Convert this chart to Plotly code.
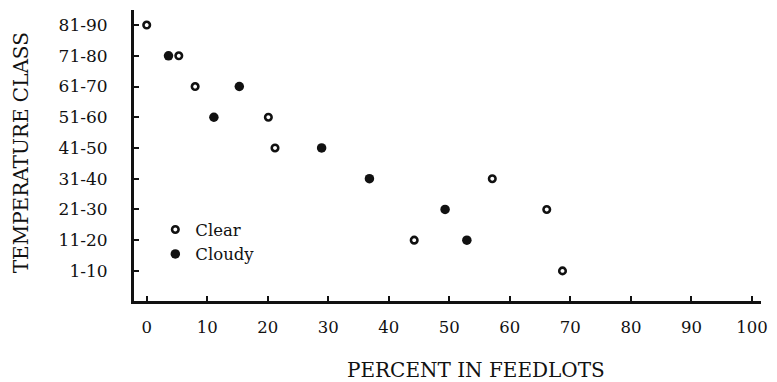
import plotly.graph_objects as go

# Temperature classes, bottom to top
temp_classes = ["1-10", "11-20", "21-30", "31-40", "41-50",
                "51-60", "61-70", "71-80", "81-90"]

# Percent of animals in feedlots, clear days
clear_class = ["81-90", "71-80", "61-70", "51-60", "41-50",
               "31-40", "21-30", "11-20", "1-10"]
clear_pct = [0, 5.3, 8.0, 20.1, 21.2, 57.1, 66.1, 44.2, 68.7]

# Percent of animals in feedlots, cloudy days
cloudy_class = ["71-80", "61-70", "51-60", "41-50", "31-40", "21-30", "11-20"]
cloudy_pct = [3.6, 15.3, 11.1, 28.9, 36.8, 49.3, 52.9]

x_ticks = [0, 10, 20, 30, 40, 50, 60, 70, 80, 90, 100]

FONT = "DejaVu Serif"
INK = "#111111"

fig = go.Figure()
fig.add_trace(go.Scatter(
    x=clear_pct, y=clear_class, mode="markers", name="Clear",
    marker=dict(symbol="circle-open", size=6.5, color=INK,
                line=dict(width=2.6, color=INK)),
))
fig.add_trace(go.Scatter(
    x=cloudy_pct, y=cloudy_class, mode="markers", name="Cloudy",
    marker=dict(symbol="circle", size=9.5, color=INK),
))

fig.update_layout(
    width=777, height=382,
    margin=dict(l=134, r=9, t=10, b=81),
    paper_bgcolor="white", plot_bgcolor="white",
    font=dict(family=FONT, color=INK),
    legend=dict(
        x=0.034, y=0.305, xanchor="left", yanchor="top",
        bgcolor="rgba(0,0,0,0)", borderwidth=0,
        font=dict(family=FONT, size=16.5, color=INK),
        tracegroupgap=0,
    ),
    annotations=[
        dict(text="PERCENT IN FEEDLOTS", xref="paper", yref="paper",
             x=(480 - 134) / (768 - 134), y=-(370 - 301) / (301 - 10),
             xanchor="center", yanchor="middle", showarrow=False,
             font=dict(family=FONT, size=20, color=INK)),
        dict(text="TEMPERATURE CLASS", xref="paper", yref="paper",
             x=-(134 - 20) / (768 - 134), y=(301 - 153) / (301 - 10),
             xanchor="center", yanchor="middle", textangle=-90,
             showarrow=False,
             font=dict(family=FONT, size=20, color=INK)),
    ],
)

fig.update_xaxes(
    range=[-2.1, 101.5], tickvals=x_ticks,
    showgrid=False, zeroline=False,
    showline=True, linewidth=3, linecolor=INK,
    ticks="inside", ticklen=5, tickwidth=2, tickcolor=INK,
    ticklabelstandoff=9,
    tickfont=dict(family=FONT, size=16.5, color=INK),
)
fig.update_yaxes(
    type="category", categoryorder="array", categoryarray=temp_classes,
    range=[-0.98, 8.49],
    showgrid=False, zeroline=False,
    showline=True, linewidth=3, linecolor=INK,
    ticks="inside", ticklen=5, tickwidth=2, tickcolor=INK,
    ticklabelstandoff=20,
    tickfont=dict(family=FONT, size=17, color=INK),
)

fig.write_html("out.html")
